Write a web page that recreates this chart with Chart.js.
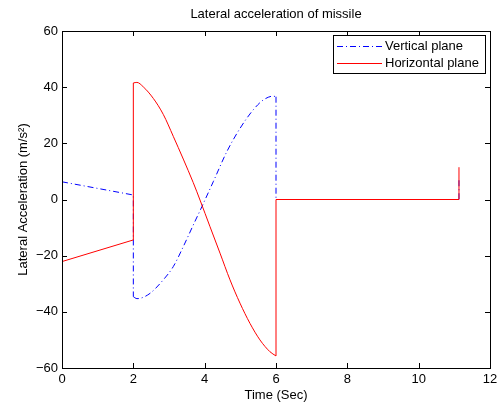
<!DOCTYPE html>
<html>
<head>
<meta charset="utf-8">
<script src="https://cdn.jsdelivr.net/npm/chart.js@4"></script>
<style>
  html, body { margin: 0; padding: 0; background: #fff; }
  #wrap { width: 502px; height: 403px; }
</style>
</head>
<body>
<div id="wrap"><canvas id="missileChart" width="502" height="403"></canvas></div>
<script>
// values
const vertTime  = [0, 2.0, 2.0, 2.1, 2.19, 2.47, 2.84, 3.12, 3.40, 3.68, 3.92, 4.24, 4.62, 4.99, 5.36, 5.64, 5.92, 6.0, 6.0, 11.13, 11.13];
const vertAccel = [6.3, 1.6, -34.6, -35.3, -35.2, -33.4, -28.6, -23.9, -16.8, -9.1, -2.6, 6.3, 17.0, 25.3, 31.9, 35.4, 36.8, 36.6, 0, 0, 7];

const horizTime  = [0, 2.0, 2.0, 2.1, 2.28, 2.56, 2.84, 3.12, 3.40, 3.68, 3.87, 4.15, 4.43, 4.71, 4.99, 5.27, 5.55, 5.83, 6.0, 6.0, 11.13, 11.13];
const horizAccel = [-22.1, -14.4, 41.5, 41.7, 40.1, 36.0, 30.3, 22.5, 14.4, 6.0, -0.2, -9.7, -19.1, -28.6, -36.9, -44.1, -50.0, -54.2, -55.7, 0, 0, 11.5];

// index range of the smooth part (between the two jumps)
const vertArc  = [2, 17];
const horizArc = [2, 18];

const seriesNames  = ['Vertical plane', 'Horizontal plane'];
const seriesColors = ['#0000ff', '#ff0000'];
const seriesDash   = [[6, 3, 1, 3], []];
const xTickValues = [0, 2, 4, 6, 8, 10, 12];
const yTickValues = [-60, -40, -20, 0, 20, 40, 60];

const FONT = '"Liberation Sans", Arial, Helvetica, sans-serif';

function toPoints(xs, ys) {
  return xs.map((x, i) => ({ x: x, y: ys[i] }));
}

// split a series into straight lead-in, smooth arc and straight tail
function seriesDatasets(k, xs, ys, arc, order) {
  const pts = toPoints(xs, ys);
  const parts = [
    { data: pts.slice(0, arc[0] + 1), smooth: false },
    { data: pts.slice(arc[0], arc[1] + 1), smooth: true },
    { data: pts.slice(arc[1]), smooth: false }
  ];
  return parts.map(p => ({
    label: seriesNames[k],
    data: p.data,
    borderColor: seriesColors[k],
    borderWidth: 1,
    borderDash: seriesDash[k],
    pointRadius: 0,
    tension: p.smooth ? 0.4 : 0,
    cubicInterpolationMode: p.smooth ? 'monotone' : 'default',
    fill: false,
    order: order
  }));
}

// frame, inward ticks, title and legend in the MATLAB style
const matlabAxes = {
  id: 'matlabAxes',
  afterDatasetsDraw(chart) {
    const ctx = chart.ctx;
    const a = chart.chartArea;
    const xs = chart.scales.x, ys = chart.scales.y;
    ctx.save();
    ctx.strokeStyle = '#000';
    ctx.lineWidth = 1;
    ctx.strokeRect(Math.round(a.left) + 0.5, Math.round(a.top) + 0.5,
                   Math.round(a.right - a.left), Math.round(a.bottom - a.top));
    const tl = 5;
    ctx.beginPath();
    xTickValues.forEach(v => {
      const px = Math.round(xs.getPixelForValue(v)) + 0.5;
      ctx.moveTo(px, a.bottom); ctx.lineTo(px, a.bottom - tl);
      ctx.moveTo(px, a.top); ctx.lineTo(px, a.top + tl);
    });
    yTickValues.forEach(v => {
      const py = Math.round(ys.getPixelForValue(v)) + 0.5;
      ctx.moveTo(a.left, py); ctx.lineTo(a.left + tl, py);
      ctx.moveTo(a.right, py); ctx.lineTo(a.right - tl, py);
    });
    ctx.stroke();

    // title
    ctx.fillStyle = '#000';
    ctx.font = '13px ' + FONT;
    ctx.textAlign = 'center';
    ctx.textBaseline = 'middle';
    ctx.fillText('Lateral acceleration of missile', (a.left + a.right) / 2, 14);

    // legend box
    const bx = 333.5, by = 35.5, bw = 152, bh = 38;
    ctx.fillStyle = '#fff';
    ctx.fillRect(bx, by, bw, bh);
    ctx.strokeRect(bx, by, bw, bh);
    seriesNames.forEach((name, i) => {
      const rowY = 46.5 + i * 17;
      ctx.beginPath();
      ctx.strokeStyle = seriesColors[i];
      ctx.lineWidth = 1;
      ctx.setLineDash(seriesDash[i]);
      ctx.moveTo(337, rowY); ctx.lineTo(382, rowY);
      ctx.stroke();
      ctx.setLineDash([]);
      ctx.fillStyle = '#000';
      ctx.textAlign = 'left';
      ctx.fillText(name, 385, rowY);
    });
    ctx.restore();
  }
};

const ctx = document.getElementById('missileChart').getContext('2d');
new Chart(ctx, {
  type: 'line',
  data: {
    datasets: [
      ...seriesDatasets(0, vertTime, vertAccel, vertArc, 2),
      ...seriesDatasets(1, horizTime, horizAccel, horizArc, 1)
    ]
  },
  options: {
    responsive: false,
    animation: false,
    devicePixelRatio: 1,
    layout: { padding: { top: 31, right: 12, left: 0, bottom: 0 } },
    plugins: {
      legend: { display: false },
      title: { display: false },
      tooltip: { enabled: false }
    },
    scales: {
      x: {
        type: 'linear',
        min: 0, max: 12,
        grid: { display: false, drawTicks: false },
        border: { display: false },
        afterFit: s => { s.height = 35; },
        afterBuildTicks: s => { s.ticks = xTickValues.map(v => ({ value: v })); },
        ticks: { color: '#000', padding: 4, font: { family: FONT, size: 13 } },
        title: { display: true, text: 'Time (Sec)', color: '#000', padding: { top: 4, bottom: 0 }, font: { family: FONT, size: 13 } }
      },
      y: {
        type: 'linear',
        min: -60, max: 60,
        grid: { display: false, drawTicks: false },
        border: { display: false },
        afterFit: s => { s.width = 62; },
        afterBuildTicks: s => { s.ticks = yTickValues.map(v => ({ value: v })); },
        ticks: {
          color: '#000', padding: 4, font: { family: FONT, size: 13 },
          callback: v => String(v).replace('-', '\u2212')
        },
        title: { display: true, text: 'Lateral Acceleration (m/s²)', color: '#000', padding: { top: 16, bottom: 0 }, font: { family: FONT, size: 13 } }
      }
    }
  },
  plugins: [matlabAxes]
});
</script>
</body>
</html>
